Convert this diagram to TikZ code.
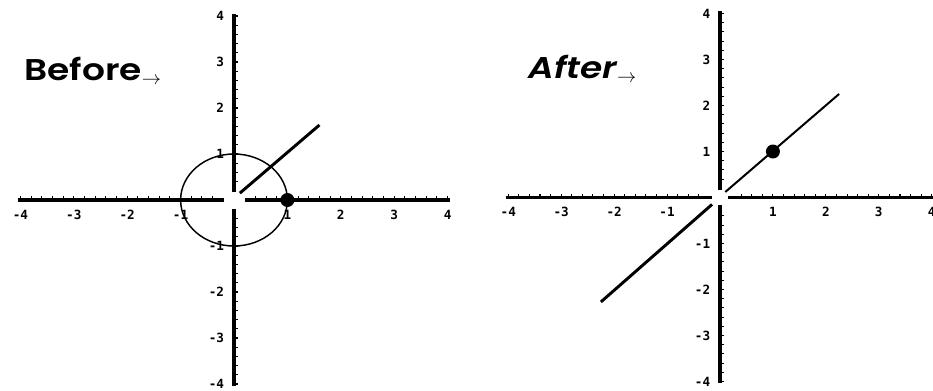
\documentclass[tikz,border=0pt]{standalone}
\usepackage{fontspec}
\newfontfamily\titlefont{Poppins}[FakeStretch=1.2, UprightFont={* SemiBold}, ItalicFont={* SemiBold Italic}]
\newfontfamily\labfont{DejaVu Sans Mono}
\begin{document}
\begin{tikzpicture}[x=0.75pt,y=-0.75pt,
  axis/.style={line width=2.6pt},
  tk/.style={line width=0.8pt},
  curve/.style={line width=1.1pt},
  ray/.style={line width=2.2pt},
  thinray/.style={line width=1.5pt},
  dot/.style={circle,fill=black,inner sep=0pt,minimum size=10.5pt},
  lab/.style={font=\labfont\bfseries\fontsize{9.5}{9.5}\selectfont, inner sep=0pt},
  xlab/.style={lab, anchor=center},
  ylab/.style={lab, anchor=east},
  title/.style={font=\titlefont\fontsize{22.5}{22.5}\selectfont, anchor=base west, inner sep=0pt}]
\useasboundingbox (0,0) rectangle (933,390);

% ---------- left plot ----------
\begin{scope}[shift={(175.5pt,-150pt)}, x=40.05pt, y=34.5pt]
  \draw[axis] (-4.05,0) -- (-0.19,0);
  \draw[axis] (0.2,0) -- (4.05,0);
  \draw[axis] (0,0.17) -- (0,4.05);
  \draw[axis] (0,-0.2) -- (0,-4.05);
  \foreach \i in {-20,...,-2,2,3,...,20} {
    \draw[tk] (\i/5,0) -- (\i/5,0.08);
    \draw[tk] (0,\i/5) -- (0.07,\i/5);
  }
  \foreach \i in {-4,...,-1,1,2,3,4} {
    \node[xlab] (lx\i) at (\i,-0.32) {\i};
    \node[ylab] (ly\i) at (-0.18,\i) {\i};
  }
  \draw[curve] (0,0) circle [x radius=1, y radius=1];
  \coordinate (r1a) at (0.11,0.15);
  \coordinate (r1b) at (1.6,1.63);
  \draw[ray] (r1a) -- (r1b);
  \node[dot] (d1) at (1,0) {};
\end{scope}

% ---------- right plot ----------
\begin{scope}[shift={(540pt,-148.125pt)}, x=39.7pt, y=34.5pt]
  \draw[axis] (-4.05,0) -- (-0.15,0);
  \draw[axis] (0.15,0) -- (4.1,0);
  \draw[axis] (0,0.16) -- (0,4.05);
  \draw[axis] (0,-0.16) -- (0,-4.03);
  \foreach \i in {-20,...,-2,2,3,...,20} {
    \draw[tk] (\i/5,0) -- (\i/5,0.08);
    \draw[tk] (0,\i/5) -- (0.07,\i/5);
  }
  \foreach \i in {-4,...,-1,1,2,3,4} {
    \node[xlab] (rx\i) at (\i,-0.32) {\i};
    \node[ylab] (ry\i) at (-0.18,\i) {\i};
  }
  \coordinate (r2a) at (-2.25,-2.27);
  \coordinate (r2b) at (-0.15,-0.15);
  \coordinate (r2c) at (0.1,0.12);
  \coordinate (r2d) at (2.25,2.25);
  \draw[ray] (r2a) -- (r2b);
  \draw[thinray] (r2c) -- (r2d);
  \node[dot] (d2) at (1,1) {};
\end{scope}

\node[title] (before) at (24,80) {Before$_{\rightarrow}$};
\node[title] (after) at (528,78) {\itshape After$_{\rightarrow}$};
\end{tikzpicture}
\end{document}
